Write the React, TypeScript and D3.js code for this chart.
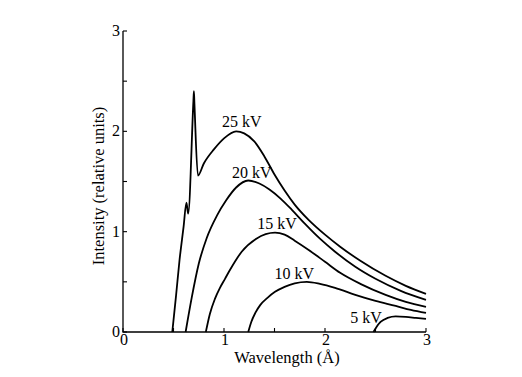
import React from "react";
import * as d3 from "d3";

// Wavelength (Å) and intensity (relative units)
const kv25: [number, number][] = [
  [0.488, 0], [0.525, 0.36], [0.56, 0.72], [0.6, 1.05], [0.628, 1.29], [0.645, 1.18],
  [0.697, 2.3], [0.702, 2.4], [0.707, 2.28], [0.742, 1.56], [0.8, 1.68], [0.9, 1.82],
  [1.0, 1.93], [1.12, 2.0], [1.2, 1.98], [1.3, 1.9], [1.4, 1.75], [1.5, 1.57],
  [1.6, 1.41], [1.7, 1.27], [1.835, 1.12], [2.0, 0.97], [2.15, 0.85], [2.35, 0.71],
  [2.6, 0.56], [2.8, 0.46], [3.0, 0.38],
];
const kv20: [number, number][] = [
  [0.62, 0], [0.68, 0.34], [0.75, 0.68], [0.83, 0.94], [0.93, 1.16], [1.02, 1.31],
  [1.12, 1.44], [1.24, 1.51], [1.35, 1.48], [1.45, 1.42], [1.56, 1.33], [1.67, 1.22],
  [1.8, 1.08], [1.95, 0.93], [2.1, 0.8], [2.3, 0.65], [2.5, 0.53], [2.75, 0.41], [3.0, 0.32],
];
const kv15: [number, number][] = [
  [0.82, 0], [0.86, 0.18], [0.91, 0.33], [0.96, 0.44], [1.01, 0.53], [1.06, 0.62],
  [1.175, 0.8], [1.32, 0.93], [1.505, 0.99], [1.6, 0.97], [1.7, 0.91], [1.835, 0.82],
  [2.0, 0.7], [2.15, 0.59], [2.35, 0.48], [2.6, 0.37], [2.8, 0.3], [3.0, 0.25],
];
const kv10: [number, number][] = [
  [1.24, 0], [1.27, 0.1], [1.31, 0.19], [1.36, 0.27], [1.43, 0.34], [1.505, 0.4],
  [1.6, 0.45], [1.7, 0.485], [1.82, 0.5], [1.95, 0.48], [2.1, 0.44], [2.3, 0.37],
  [2.5, 0.31], [2.7, 0.26], [2.85, 0.22], [3.0, 0.19],
];
const kv5: [number, number][] = [
  [2.48, 0], [2.51, 0.05], [2.55, 0.1], [2.62, 0.14], [2.7, 0.155], [2.8, 0.15],
  [2.9, 0.14], [3.0, 0.13],
];

const seriesList = [kv25, kv20, kv15, kv10, kv5];

// Curve labels: text and anchor position in data units (left x, baseline y)
const labelTexts = ["25 kV", "20 kV", "15 kV", "10 kV", "5 kV"];
const labelPos: [number, number][] = [
  [0.98, 2.04], [1.08, 1.53], [1.33, 1.03], [1.5, 0.53], [2.25, 0.09],
];

const majorTicks = [0, 1, 2, 3];
const minorTicks = [0.5, 1.5, 2.5];
const tickLabels = ["0", "1", "2", "3"];

const FONT = "Liberation Serif";

export default function App() {
  const W = 522;
  const H = 377;
  const x = d3.scaleLinear().domain([0, 3]).range([123, 426]);
  const y = d3.scaleLinear().domain([0, 3]).range([332, 31]);
  const line = d3
    .line<[number, number]>()
    .x((d) => x(d[0]))
    .y((d) => y(d[1]))
    .curve(d3.curveMonotoneX);
  const tl = 4;
  const allTicks = [...majorTicks, ...minorTicks];
  const ts = { fontFamily: FONT };

  return (
    <svg
      width={W}
      height={H}
      style={{ position: "absolute", left: 0, top: 0, background: "#fff", fontFamily: FONT }}
    >
      <rect width={W} height={H} fill="#fff" />
      {/* curves */}
      {seriesList.map((s, i) => (
        <path key={i} d={line(s) || ""} fill="none" stroke="#000" strokeWidth={1.8} strokeLinejoin="round" />
      ))}
      {/* axes */}
      <path
        d={`M${x(0)},${y(3)}V${y(0)}H${x(3)}`}
        fill="none"
        stroke="#000"
        strokeWidth={1.3}
      />
      {allTicks.map((t) => (
        <line key={"xt" + t} x1={x(t)} x2={x(t)} y1={y(0)} y2={y(0) - tl} stroke="#000" strokeWidth={1.1} />
      ))}
      {allTicks.map((t) => (
        <line key={"yt" + t} x1={x(0)} x2={x(0) + tl} y1={y(t)} y2={y(t)} stroke="#000" strokeWidth={1.1} />
      ))}
      {majorTicks.map((t, i) => (
        <text key={"xl" + t} style={ts} x={x(t) + 1} y={y(0) + 13} textAnchor="middle" fontSize={16}>
          {tickLabels[i]}
        </text>
      ))}
      {majorTicks.map((t, i) => (
        <text key={"yl" + t} style={ts} x={x(0) - 3} y={y(t) + 5} textAnchor="end" fontSize={16}>
          {tickLabels[i]}
        </text>
      ))}
      <text style={ts} x={287} y={363} textAnchor="middle" fontSize={16.5}>
        Wavelength (Å)
      </text>
      <text style={ts} transform={`translate(104,186) rotate(-90)`} textAnchor="middle" fontSize={16.5}>
        Intensity (relative units)
      </text>
      {labelTexts.map((t, i) => (
        <text key={t} style={ts} x={x(labelPos[i][0])} y={y(labelPos[i][1])} fontSize={16}>
          {t}
        </text>
      ))}
    </svg>
  );
}
